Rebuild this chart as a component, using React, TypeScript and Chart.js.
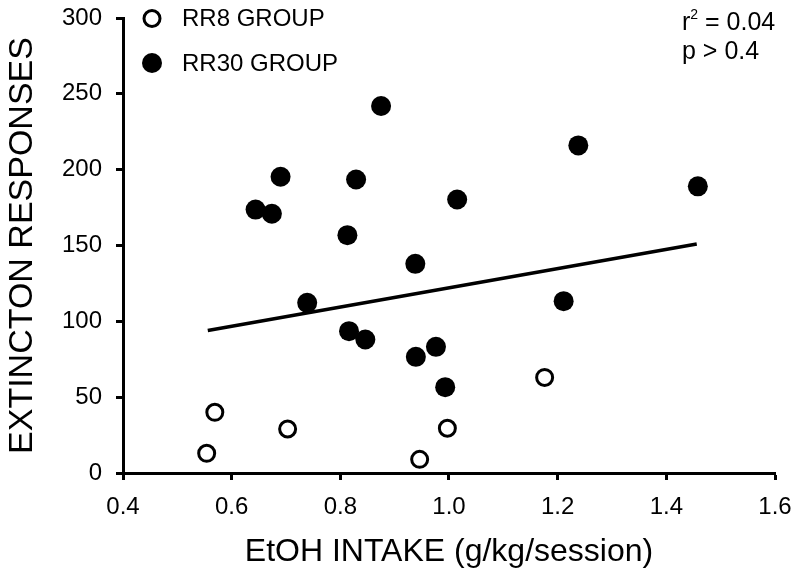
import React, { useEffect, useRef } from "react";
import { Chart, registerables } from "chart.js";

Chart.register(...registerables);

// ---- data ----
const rr8Intake = [0.554, 0.569, 0.703, 0.946, 0.997, 1.176];
const rr8Responses = [13, 40, 29, 9, 29.5, 63];

const rr30Intake = [
  0.644, 0.674, 0.69, 0.739, 0.813, 0.816, 0.829, 0.846, 0.875, 0.938, 0.939,
  0.976, 0.993, 1.015, 1.211, 1.238, 1.458,
];
const rr30Responses = [
  173.7, 170.9, 195.3, 112.2, 156.8, 93.5, 193.5, 88, 242, 137.9, 76.6, 83.2,
  56.6, 180.3, 113.3, 216, 189,
];

const fitIntake = [0.556, 1.456];
const fitResponses = [94, 151];

const xTicks = [0.4, 0.6, 0.8, 1.0, 1.2, 1.4, 1.6];
const yTicks = [0, 50, 100, 150, 200, 250, 300];

const seriesNames = ["RR8 GROUP", "RR30 GROUP"];
const statR2 = "0.04";
const statP = "p > 0.4";
const xTitle = "EtOH INTAKE (g/kg/session)";
const yTitle = "EXTINCTON RESPONSES";

const FONT = "'Liberation Sans', Arial, Helvetica, sans-serif";

const toPoints = (xs: number[], ys: number[]) =>
  xs.map((x, i) => ({ x, y: ys[i] }));

const insideLegend = {
  id: "insideLegend",
  afterDraw(chart: any) {
    const { ctx, chartArea } = chart;
    ctx.save();
    const cx = chartArea.left + 29;
    let cy = chartArea.top + 0.5;
    chart.data.datasets.forEach((ds: any) => {
      if (!ds.inLegend) return;
      ctx.beginPath();
      ctx.arc(cx, cy, ds.pointRadius, 0, Math.PI * 2);
      ctx.fillStyle = ds.backgroundColor;
      ctx.fill();
      if (ds.borderWidth > 0) {
        ctx.lineWidth = ds.borderWidth;
        ctx.strokeStyle = ds.borderColor;
        ctx.stroke();
      }
      ctx.fillStyle = "#000";
      ctx.font = `24px ${FONT}`;
      ctx.textBaseline = "middle";
      ctx.textAlign = "left";
      ctx.fillText(ds.label, cx + 30, cy + 1);
      cy += 44.5;
    });

    // statistics text, top-right
    const sx = chartArea.right - 93;
    const sy = chartArea.top + 5;
    ctx.font = `25px ${FONT}`;
    ctx.fillText("r", sx, sy);
    const rw = ctx.measureText("r").width;
    ctx.font = `14px ${FONT}`;
    ctx.fillText("2", sx + rw, sy - 8);
    const tw = ctx.measureText("2").width;
    ctx.font = `25px ${FONT}`;
    ctx.fillText(" = " + statR2, sx + rw + tw, sy);
    ctx.fillText(statP, sx, sy + 29);
    ctx.restore();
  },
};

export default function App() {
  const ref = useRef<HTMLCanvasElement>(null);

  useEffect(() => {
    if (!ref.current) return;
    const chart = new Chart(ref.current, {
      type: "scatter",
      data: {
        datasets: [
          {
            label: seriesNames[0],
            inLegend: true,
            data: toPoints(rr8Intake, rr8Responses),
            pointRadius: 8,
            borderWidth: 3,
            borderColor: "#000",
            backgroundColor: "#fff",
          } as any,
          {
            label: seriesNames[1],
            inLegend: true,
            data: toPoints(rr30Intake, rr30Responses),
            pointRadius: 10,
            borderWidth: 0,
            borderColor: "#000",
            backgroundColor: "#000",
          } as any,
          {
            label: "fit",
            data: toPoints(fitIntake, fitResponses),
            showLine: true,
            pointRadius: 0,
            borderWidth: 3.5,
            borderColor: "#000",
            backgroundColor: "#000",
          } as any,
        ],
      },
      options: {
        animation: false,
        responsive: false,
        events: [],
        layout: { padding: { top: 18, right: 25, left: 0, bottom: 0 } },
        plugins: {
          legend: { display: false },
          tooltip: { enabled: false },
        },
        scales: {
          x: {
            type: "linear",
            min: xTicks[0],
            max: xTicks[xTicks.length - 1],
            afterBuildTicks: (s: any) => {
              s.ticks = xTicks.map((v) => ({ value: v }));
            },
            afterFit: (s: any) => {
              s.height = 108;
              s.paddingLeft = 0;
              s.paddingRight = 0;
            },
            ticks: {
              callback: (v: any) => Number(v).toFixed(1),
              color: "#000",
              font: { family: FONT, size: 24 },
              padding: 13,
              maxRotation: 0,
              autoSkip: false,
            },
            grid: {
              drawOnChartArea: false,
              drawTicks: true,
              tickLength: 7,
              tickWidth: 3,
              tickColor: "#000",
              color: "#000",
            },
            border: { display: true, color: "#000", width: 3 },
            title: {
              display: true,
              text: xTitle,
              color: "#000",
              font: { family: FONT, size: 32 },
              padding: { top: 4, bottom: 10 },
            },
          },
          y: {
            type: "linear",
            min: yTicks[0],
            max: yTicks[yTicks.length - 1],
            afterBuildTicks: (s: any) => {
              s.ticks = yTicks.map((v) => ({ value: v }));
            },
            afterFit: (s: any) => {
              s.width = 123;
              s.paddingTop = 0;
              s.paddingBottom = 0;
            },
            ticks: {
              color: "#000",
              font: { family: FONT, size: 24 },
              padding: 14,
              autoSkip: false,
            },
            grid: {
              drawOnChartArea: false,
              drawTicks: true,
              tickLength: 7,
              tickWidth: 3,
              tickColor: "#000",
              color: "#000",
            },
            border: { display: true, color: "#000", width: 3 },
            title: {
              display: true,
              text: yTitle,
              color: "#000",
              font: { family: FONT, size: 34 },
              padding: { top: 2, bottom: 0 },
            },
          },
        },
      } as any,
      plugins: [insideLegend],
    });
    return () => chart.destroy();
  }, []);

  return (
    <div
      style={{
        position: "absolute",
        left: 0,
        top: 0,
        width: 800,
        height: 581,
        background: "#fff",
      }}
    >
      <canvas ref={ref} width={800} height={581} style={{ display: "block" }} />
    </div>
  );
}
